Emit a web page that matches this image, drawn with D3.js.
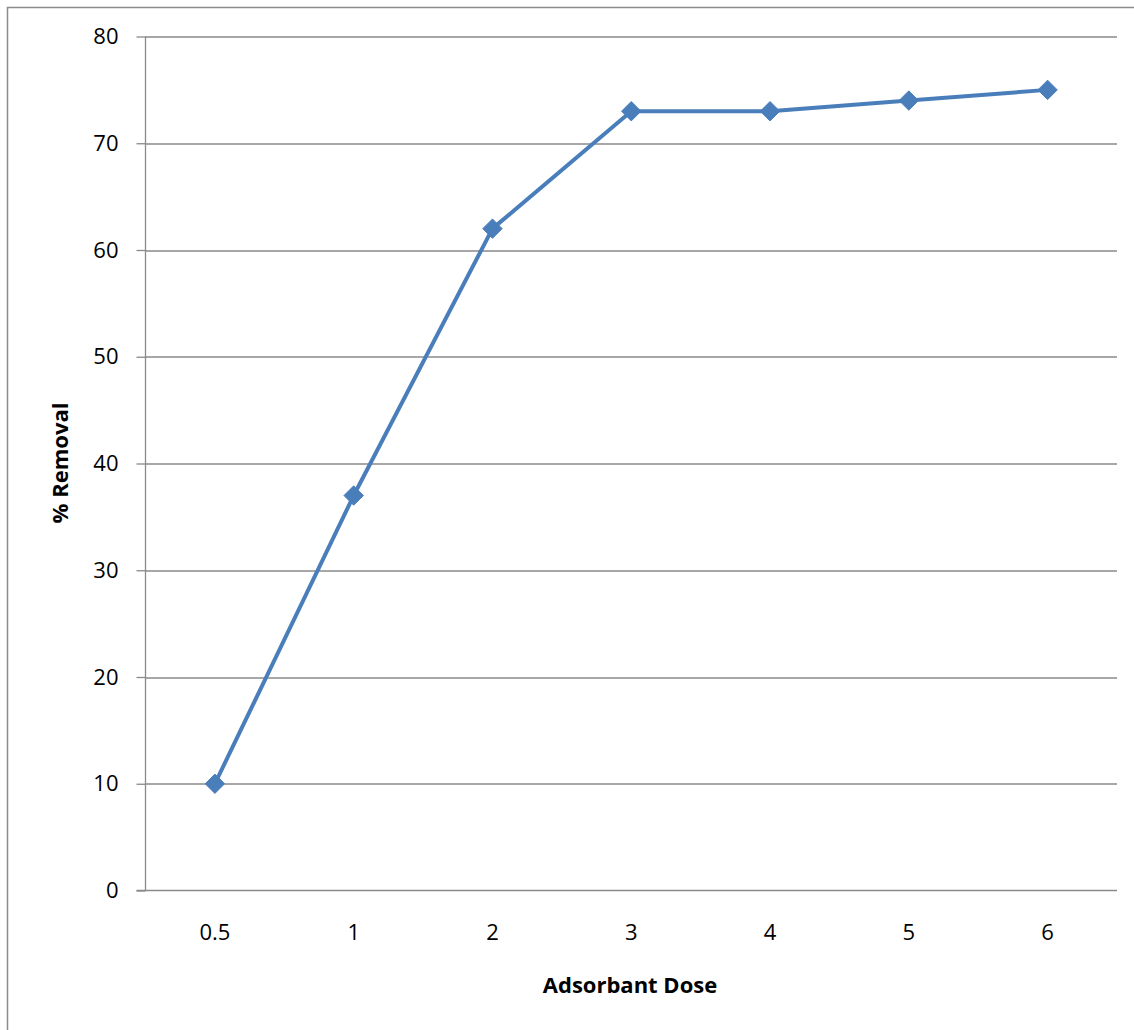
<!DOCTYPE html>
<html>
<head>
<meta charset="utf-8">
<script src="https://cdn.jsdelivr.net/npm/d3@7"></script>
<style>
  body { margin: 0; background: #fff; }
  text { font-family: "Open Sans", sans-serif; }
</style>
</head>
<body>
<svg class="chart"></svg>
<script>
var doses = ["0.5", "1", "2", "3", "4", "5", "6"];
var removal = [10, 37, 62, 73, 73, 74, 75];
var yTicks = [0, 10, 20, 30, 40, 50, 60, 70, 80];

function show() {
    'use strict';
    var W = 1134, H = 1030;
    var margin = {top: 36.5, left: 145.5, right: 17, bottom: 139.5};
    var width = W - margin.left - margin.right,
        height = H - margin.top - margin.bottom;

    var svg = d3.select(".chart")
        .attr("width", W)
        .attr("height", H);

    // outer chart border (cut off at right/bottom)
    svg.append("rect")
        .attr("x", 7.5).attr("y", 7.5)
        .attr("width", W + 20).attr("height", H + 20)
        .attr("fill", "none")
        .attr("stroke", "#8c8c8c")
        .attr("stroke-width", 1.5);

    var g = svg.append("g")
        .attr("transform", "translate(" + margin.left + "," + margin.top + ")");

    var x = d3.scaleBand().domain(doses).range([0, width]);
    var y = d3.scaleLinear().domain([0, 80]).range([height, 0]);

    // gridlines
    g.selectAll(".grid").data(yTicks.slice(1)).enter()
        .append("line")
        .attr("x1", 0).attr("x2", width)
        .attr("y1", function (d) { return Math.round(y(d)) + 0.5; })
        .attr("y2", function (d) { return Math.round(y(d)) + 0.5; })
        .attr("stroke", "#8a8a8a")
        .attr("stroke-width", 1.3);

    // y axis
    var yAxis = g.append("g")
        .call(d3.axisLeft(y).tickValues(yTicks).tickSize(9).tickPadding(18));
    yAxis.attr("font-size", 22).attr("font-family", "'Open Sans', sans-serif");
    yAxis.selectAll("line, path").attr("stroke", "#8a8a8a").attr("stroke-width", 1.3);
    yAxis.select(".domain").attr("d", "M0," + height + "V0");
    yAxis.selectAll("text").attr("fill", "#000");

    // x axis
    var xAxis = g.append("g")
        .attr("transform", "translate(0," + height + ")")
        .call(d3.axisBottom(x).tickSize(0).tickPadding(34));
    xAxis.attr("font-size", 22).attr("font-family", "'Open Sans', sans-serif");
    xAxis.selectAll("path").attr("stroke", "#8a8a8a").attr("stroke-width", 1.3);
    xAxis.select(".domain").attr("d", "M-9,0H" + width);
    xAxis.selectAll("text").attr("fill", "#000");

    var cx = function (d, i) { return x(doses[i]) + x.bandwidth() / 2; };

    var line = d3.line()
        .x(function (d, i) { return cx(d, i); })
        .y(function (d) { return y(d); });

    g.append("path")
        .datum(removal)
        .attr("d", line)
        .attr("fill", "none")
        .attr("stroke", "#4a7ebb")
        .attr("stroke-width", 4)
        .attr("stroke-linejoin", "round");

    g.selectAll(".marker").data(removal).enter()
        .append("path")
        .attr("d", d3.symbol().type(d3.symbolDiamond2).size(240))
        .attr("transform", function (d, i) {
            return "translate(" + cx(d, i) + "," + y(d) + ")";
        })
        .attr("fill", "#4a7ebb")
        .attr("stroke", "#4a7ebb")
        .attr("stroke-width", 1)
        .attr("stroke-linejoin", "round");

    // axis titles
    svg.append("text")
        .attr("x", 630).attr("y", 993)
        .attr("text-anchor", "middle")
        .attr("font-size", 22).attr("font-weight", "bold")
        .text("Adsorbant Dose");

    svg.append("text")
        .attr("transform", "translate(68,463) rotate(-90)")
        .attr("text-anchor", "middle")
        .attr("font-size", 22).attr("font-weight", "bold")
        .text("% Removal");
}
show();
</script>
</body>
</html>
